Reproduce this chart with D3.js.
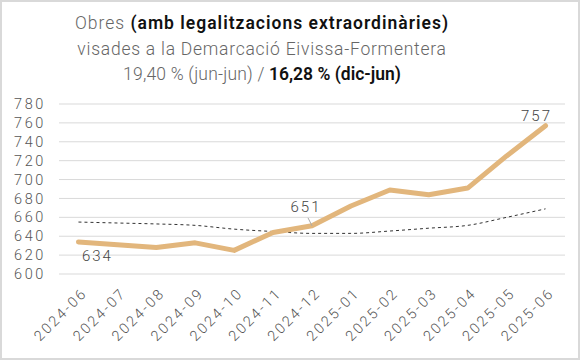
<!DOCTYPE html>
<html><head><meta charset="utf-8">
<script src="https://cdn.jsdelivr.net/npm/d3@7"></script>
<style>
html,body{margin:0;padding:0;background:#fff;}
svg{display:block;}
text{font-family:Roboto,"Noto Sans",sans-serif;}
</style></head>
<body>
<svg id="chart" width="580" height="360"></svg>
<script>
const months = ["2024-06","2024-07","2024-08","2024-09","2024-10","2024-11","2024-12","2025-01","2025-02","2025-03","2025-04","2025-05","2025-06"];
const obres = [634,631,628,633,625,644,651,672,689,684,691,725,757];
const tendencia = [655,654,653,651.5,647.5,645,643,643,645.5,648.5,651.5,660,669];
const yTicks = [600,620,640,660,680,700,720,740,760,780];
const labelled = {"2024-06":"below","2024-12":"leader","2025-06":"above"};

const svg = d3.select("#chart");
const W = 580, H = 360;
const m = {left:59, right:15, top:104, bottom:86};

svg.append("rect").attr("x",1).attr("y",1).attr("width",W-2).attr("height",H-2)
  .attr("fill","#fff").attr("stroke","#d9d9d9").attr("stroke-width",2);

const x = d3.scalePoint().domain(months).range([m.left, W-m.right]).padding(0.5);
const y = d3.scaleLinear().domain([600,780]).range([H-m.bottom, m.top]);

// grid
svg.append("g").selectAll("line").data(yTicks).join("line")
  .attr("x1",m.left).attr("x2",W-m.right)
  .attr("y1",d=>y(d)).attr("y2",d=>y(d))
  .attr("stroke","#d9d9d9").attr("stroke-width",1);

// y axis
const ya = svg.append("g").attr("transform",`translate(${m.left},0)`)
  .call(d3.axisLeft(y).tickValues(yTicks).tickSize(0).tickPadding(13));
ya.select(".domain").remove();
ya.selectAll("text").attr("fill","#555").attr("font-size",14.5).attr("font-weight",300)
  .attr("font-family","Roboto,sans-serif").attr("letter-spacing","2.6px");

// x axis
const xa = svg.append("g").attr("transform",`translate(0,${H-m.bottom})`)
  .call(d3.axisBottom(x).tickSize(0).tickPadding(0));
xa.select(".domain").remove();
xa.selectAll("text").attr("fill","#555").attr("font-size",14.5).attr("font-weight",300)
  .attr("font-family","Roboto,sans-serif").attr("letter-spacing","2.2px")
  .attr("text-anchor","end").attr("dy","0")
  .attr("transform","translate(9,20) rotate(-45)");

// dashed trend
const line = d3.line().x((d,i)=>x(months[i])).y(d=>y(d));
svg.append("path").datum(tendencia).attr("d",line.curve(d3.curveMonotoneX))
  .attr("fill","none").attr("stroke","#333").attr("stroke-width",1)
  .attr("stroke-dasharray","3,3");

// main line
svg.append("path").datum(obres).attr("d",d3.line().x((d,i)=>x(months[i])).y(d=>y(d)))
  .attr("fill","none").attr("stroke","#E2B67C").attr("stroke-width",5)
  .attr("stroke-linejoin","round").attr("stroke-linecap","round");

// value labels
months.forEach((mo,i)=>{
  const pos = labelled[mo]; if(!pos) return;
  const px = x(mo), py = y(obres[i]);
  let tx=px, ty=py;
  if(pos==="below"){tx=px+19; ty=py+19;}
  if(pos==="above"){tx=px-9; ty=py-5;}
  if(pos==="leader"){
    tx=px-6; ty=py-14;
    svg.append("line").attr("x1",px).attr("y1",py).attr("x2",px-4).attr("y2",py-8)
      .attr("stroke","#aaa").attr("stroke-width",1);
  }
  svg.append("text").attr("x",tx).attr("y",ty).attr("text-anchor","middle")
    .attr("font-size",15).attr("font-weight",300).attr("fill","#444")
    .attr("letter-spacing","2px").text(obres[i]);
});

// title
const t = svg.append("text").attr("text-anchor","middle").attr("font-size",17.5).attr("fill","#666")
  .attr("font-weight",300).attr("letter-spacing","0.6px");
const l1 = t.append("tspan").attr("x",262).attr("y",29);
l1.append("tspan").attr("letter-spacing","1px").text("Obres ");
l1.append("tspan").attr("font-weight",600).attr("fill","#111").attr("letter-spacing","1px").text("(amb legalitzacions extraordinàries)");
t.append("tspan").attr("x",262).attr("y",55).attr("letter-spacing","0.75px").text("visades a la Demarcació Eivissa-Formentera");
const l3 = t.append("tspan").attr("x",262).attr("y",80);
l3.append("tspan").attr("letter-spacing","0.2px").text("19,40 % (jun-jun) / ");
l3.append("tspan").attr("font-weight",600).attr("fill","#111").attr("letter-spacing","0px").text("16,28 % (dic-jun)");
</script>
</body></html>
